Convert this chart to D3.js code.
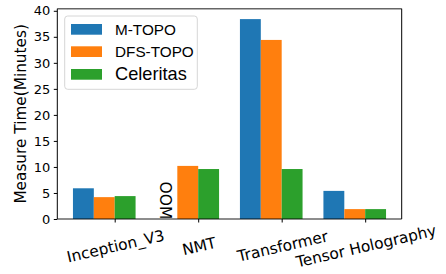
<!DOCTYPE html>
<html><head><meta charset="utf-8">
<script src="https://cdn.jsdelivr.net/npm/d3@7"></script>
<style>body{margin:0;background:#fff}svg{display:block}</style>
</head><body>
<script>
const categories = ["Inception_V3", "NMT", "Transformer", "Tensor Holography"];
const seriesNames = ["M-TOPO", "DFS-TOPO", "Celeritas"];
const mtopo = [5.9, null, 38.4, 5.4];
const dfstopo = [4.2, 10.2, 34.4, 1.9];
const celeritas = [4.4, 9.6, 9.6, 1.9];
const colors = ["#1f77b4", "#ff7f0e", "#2ca02c"];
const yTicks = [0, 5, 10, 15, 20, 25, 30, 35, 40];
const oomLabel = "OOM";
const yLabel = "Measure Time(Minutes)";

const series = [mtopo, dfstopo, celeritas];
const W = 446, H = 274;
const L = 57.3, R = 401.7, T = 8.7, B = 219;
const svg = d3.select("body").append("svg").attr("width", W).attr("height", H);

const x = d3.scaleLinear().domain([-0.6875, 3.4375]).range([L, R]);
const y = d3.scaleLinear().domain([0, 40.4]).range([B, T]);
const bw = 0.25;

// bars
series.forEach((s, si) => {
  svg.append("g").selectAll("rect").data(s.map((v, i) => ({v, i})).filter(d => d.v != null))
    .join("rect")
    .attr("x", d => x(d.i - 0.5 + si * bw))
    .attr("width", d => x(d.i - 0.5 + (si + 1) * bw) - x(d.i - 0.5 + si * bw))
    .attr("y", d => y(d.v))
    .attr("height", d => y(0) - y(d.v))
    .attr("fill", colors[si]);
});

// OOM label
series[0].forEach((v, i) => {
  if (v == null) {
    svg.append("text")
      .attr("transform", `translate(${x(i - 0.375) - 6.5},${y(0) - 37.5}) rotate(90)`)
      .attr("font-family", "DejaVu Sans").attr("font-size", 15.5)
      .attr("fill", "#000").text(oomLabel);
  }
});

// y axis
const ya = svg.append("g").attr("transform", `translate(${L},0)`)
  .call(d3.axisLeft(y).tickValues(yTicks).tickSize(3.5).tickPadding(3.5));
ya.select(".domain").remove();
ya.selectAll("text").attr("font-family", "DejaVu Sans").attr("font-size", 13).attr("fill", "#000");
ya.selectAll("line").attr("stroke", "#000");

// x axis
const xa = svg.append("g").attr("transform", `translate(0,${B})`)
  .call(d3.axisBottom(x).tickValues([0, 1, 2, 3]).tickFormat(i => categories[i]).tickSize(3.5));
xa.select(".domain").remove();
xa.selectAll("line").attr("stroke", "#000");
xa.selectAll("text")
  .attr("y", null).attr("dy", null)
  .attr("font-family", "DejaVu Sans").attr("font-size", 15.4).attr("fill", "#000")
  .attr("text-anchor", "middle").attr("dominant-baseline", "central")
  .attr("transform", "translate(0.5,27.5) rotate(-13)");

// spines
svg.append("line").attr("x1", L).attr("x2", L).attr("y1", T).attr("y2", B).attr("stroke", "#000").attr("stroke-width", 1);
svg.append("line").attr("x1", R).attr("x2", R).attr("y1", T).attr("y2", B).attr("stroke", "#000").attr("stroke-width", 1);
svg.append("line").attr("x1", L).attr("x2", R).attr("y1", T).attr("y2", T).attr("stroke", "rgba(0,0,0,0.6)").attr("stroke-width", 1.6);
svg.append("line").attr("x1", L).attr("x2", R).attr("y1", B).attr("y2", B).attr("stroke", "rgba(0,0,0,0.6)").attr("stroke-width", 1.6);

// y label
svg.append("text")
  .attr("transform", `translate(25.5,${(T + B) / 2}) rotate(-90)`)
  .attr("text-anchor", "middle")
  .attr("font-family", "DejaVu Sans").attr("font-size", 15.3).attr("fill", "#000")
  .text(yLabel);

// legend
const lg = svg.append("g");
lg.append("rect").attr("x", 64.7).attr("y", 16).attr("width", 132.6).attr("height", 73.3)
  .attr("rx", 3).attr("fill", "rgba(255,255,255,0.8)").attr("stroke", "#d6d6d6").attr("stroke-width", 1);
const rowY = [24, 46.3, 69];
const fs = [15.3, 15.3, 18.2];
seriesNames.forEach((n, i) => {
  lg.append("rect").attr("x", 71).attr("y", rowY[i]).attr("width", 31).attr("height", 10.7).attr("fill", colors[i]);
  lg.append("text").attr("x", 115).attr("y", rowY[i] + 5.35).attr("dominant-baseline", "central")
    .attr("font-family", "Liberation Sans").attr("font-size", fs[i]).attr("fill", "#000").text(n);
});
</script>
</body></html>
